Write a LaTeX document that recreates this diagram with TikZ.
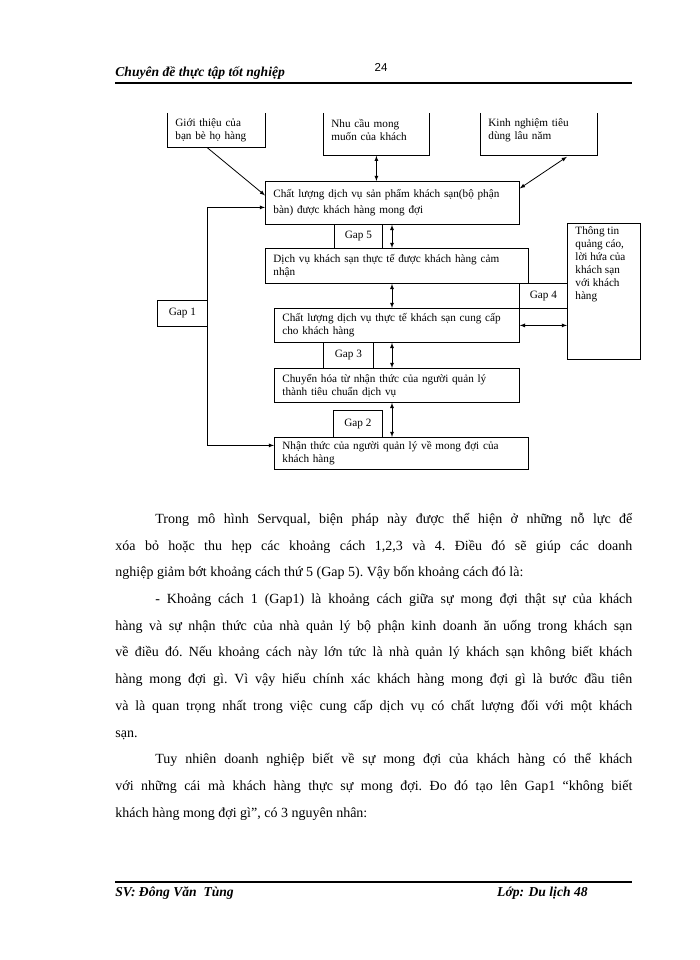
\documentclass[tikz,border=0pt]{standalone}
\usepackage{fontspec}
\setmainfont{Liberation Serif}
\newfontfamily\headsans{Liberation Sans}
\usetikzlibrary{arrows}
\newcommand{\diagfont}{\fontsize{11.2}{13}\selectfont}
\newcommand{\bodyfont}{\fontsize{14}{26.7}\selectfont\frenchspacing\parindent=0pt\parskip=0pt\hyphenpenalty=10000\exhyphenpenalty=10000}
\newcommand{\headfont}{\fontsize{13.6}{15}\selectfont\bfseries\itshape}

\tikzset{
  box/.style={draw, anchor=north west, align=left, inner xsep=8pt, inner ysep=0pt, font=\diagfont},
  gap/.style={draw, anchor=north west, inner sep=0pt, font=\diagfont},
}

\begin{document}
\begin{tikzpicture}[x=1pt, y=-1pt, line width=0.8pt, >=latex]
  \useasboundingbox (0,0) rectangle (700,960);

  \node[anchor=base west, inner sep=0pt, font=\headfont] (chapter) at (115,77) {Chuyên đề thực tập tốt nghiệp};
  \node[anchor=base, inner sep=0pt, font=\headsans\fontsize{11.5}{13}\selectfont] (pageno) at (381,72) {24};
  \draw[line width=2pt] (115,83) -- (632,83);

  \node[box, draw=none, minimum width=98pt, minimum height=34pt, text width=82pt] (friends) at (167,113) {Giới thiệu của\\bạn bè họ hàng};
  \node[box, draw=none, minimum width=106pt, minimum height=34pt, text width=90pt] (needs) at (323,113) {Nhu cầu mong\\muốn của khách};
  \node[box, draw=none, minimum width=117pt, minimum height=34pt, text width=101pt] (habit) at (480,113) {Kinh nghiệm tiêu\\dùng lâu năm};
  \draw (friends.north west) |- (friends.south east) -- (friends.north east);
  \draw (needs.north west) -- ++(0,42) -| (needs.north east);
  \draw (habit.north west) -- ++(0,42) -| (habit.north east);

  \node[box, minimum width=254pt, minimum height=43pt, text width=238pt, font=\fontsize{11.2}{16.5}\selectfont] (expect) at (265,181) {Chất lượng dịch vụ sản phẩm khách sạn(bộ phận\\bàn) được khách hàng mong đợi};
  \node[box, minimum width=263pt, minimum height=35pt, text width=247pt] (perceived) at (265,248) {Dịch vụ khách sạn thực tế được khách hàng cảm\\nhận};
  \node[box, minimum width=245pt, minimum height=34pt, text width=229pt] (delivered) at (274,308) {Chất lượng dịch vụ thực tế khách sạn cung cấp\\cho khách hàng};
  \node[box, minimum width=245pt, minimum height=34pt, text width=229pt] (standard) at (274,368) {Chuyển hóa từ nhận thức của người quản lý\\thành tiêu chuẩn dịch vụ};
  \node[box, minimum width=254pt, minimum height=32pt, text width=238pt] (manager) at (274,437) {Nhận thức của người quản lý về mong đợi của\\khách hàng};
  \node[draw, anchor=north west, inner sep=0pt, minimum width=73pt, minimum height=136pt, font=\diagfont] (ads) at (567,223) {\begin{minipage}[t][130pt][t]{57pt}Thông tin\\quảng cáo,\\lời hứa của\\khách sạn\\với khách\\hàng\end{minipage}};

  \node[gap, minimum width=50pt, minimum height=26pt] (gapone) at (157,300) {Gap 1};
  \node[gap, minimum width=49pt, minimum height=27pt] (gaptwo) at (333,410) {Gap 2};
  \node[gap, minimum width=50pt, minimum height=26pt] (gapthree) at (323,342) {Gap 3};
  \node[gap, minimum width=48pt, minimum height=25pt] (gapfour) at (519,283) {Gap 4};
  \node[gap, minimum width=48pt, minimum height=24pt] (gapfive) at (334,224) {Gap 5};

  \coordinate (axis) at (392,0);
  \draw[->] ([xshift=-9pt]friends.south) -- ([yshift=7.5pt]expect.west);
  \draw[<->] ([yshift=-8pt]needs.south) -- (needs.south |- expect.north);
  \draw[<->] ([xshift=28pt, yshift=-9pt]habit.south) -- ([yshift=14.5pt]expect.east);
  \draw[<->] (axis |- expect.south) -- (axis |- perceived.north);
  \draw[<->] (axis |- perceived.south) -- (axis |- delivered.north);
  \draw[<->] (axis |- delivered.south) -- (axis |- standard.north);
  \draw[<->] (axis |- standard.south) -- (axis |- manager.north);
  \draw[<->] (delivered.east) -- (delivered.east -| ads.west);
  \draw[<->] ([yshift=-4.5pt]expect.west) -| (gapone.east) |- ([yshift=8pt]manager.west);

  \node[anchor=north west, inner sep=0pt, text width=517pt, align=justify, font=\bodyfont] (body) at (115,507) {\rule{0pt}{16pt}\hspace*{40pt}Trong mô hình Servqual, biện pháp này được thể hiện ở những nỗ lực để\linebreak
xóa bỏ hoặc thu hẹp các khoảng cách 1,2,3 và 4. Điều đó sẽ giúp các doanh\linebreak
nghiệp giảm bớt khoảng cách thứ 5 (Gap 5). Vậy bốn khoảng cách đó là:\\
\hspace*{40pt}- Khoảng cách 1 (Gap1) là khoảng cách giữa sự mong đợi thật sự của khách\linebreak
hàng và sự nhận thức của nhà quản lý bộ phận kinh doanh ăn uống trong khách sạn\linebreak
về điều đó. Nếu khoảng cách này lớn tức là nhà quản lý khách sạn không biết khách\linebreak
hàng mong đợi gì. Vì vậy hiểu chính xác khách hàng mong đợi gì là bước đầu tiên\linebreak
và là quan trọng nhất trong việc cung cấp dịch vụ có chất lượng đối với một khách\linebreak
sạn.\\
\hspace*{40pt}Tuy nhiên doanh nghiệp biết về sự mong đợi của khách hàng có thể khách\linebreak
với những cái mà khách hàng thực sự mong đợi. Đo đó tạo lên Gap1 “không biết\linebreak
khách hàng mong đợi gì”, có 3 nguyên nhân:};

  \draw[line width=2pt] (115,882) -- (632,882);
  \node[anchor=base west, inner sep=0pt, font=\headfont] (student) at (115,896) {SV: Đông Văn\ \ Tùng};
  \node[anchor=base east, inner sep=0pt, font=\headfont] (classname) at (588,896) {Lớp: Du lịch 48};
\end{tikzpicture}
\end{document}
